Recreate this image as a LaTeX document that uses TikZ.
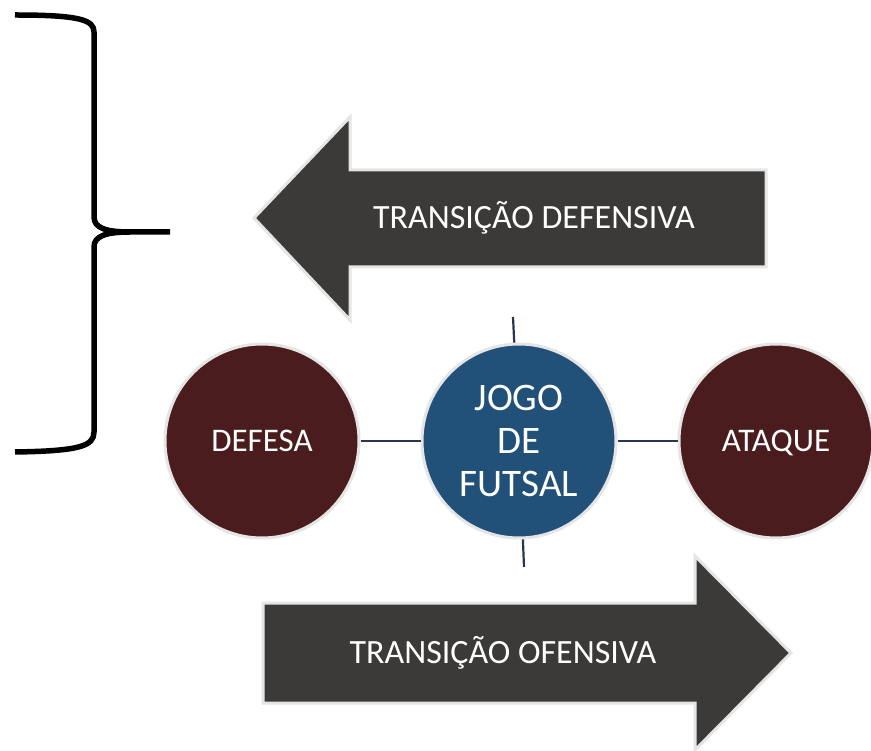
\documentclass[tikz,border=0pt]{standalone}
\usepackage{fontspec}
\setmainfont{Carlito}
\definecolor{arrowgray}{HTML}{3B3A38}
\definecolor{maroon}{HTML}{4B1C1E}
\definecolor{gameblue}{HTML}{215079}
\definecolor{linkblue}{HTML}{26384F}
\begin{document}
\begin{tikzpicture}[x=1pt,y=-1pt,
	ball/.style={circle,fill=maroon,draw=black!10,line width=3pt,minimum size=194pt,inner sep=0pt,text=white,text depth=0pt,font=\fontsize{33}{40}\selectfont},
	bigarrow/.style={fill=arrowgray,draw=black!10,line width=3pt,line join=miter},
	label/.style={text=white,font=\fontsize{34}{40}\selectfont},
	link/.style={draw=linkblue,line width=2.2pt}]
	\useasboundingbox (0,0) rectangle (871,751);
	\draw [line width=5.5pt,line join=round] (15,15) .. controls (80,15) and (94,20) .. (94,32) -- (94,217)
		.. controls (94,228) and (106,232) .. (130,232) -- (170,232);
	\draw [line width=5.5pt] (130,232) .. controls (106,232) and (94,236) .. (94,247) -- (94,432)
		.. controls (94,446) and (80,451) .. (15,452);
	\draw [bigarrow] (254,218) -- (350,117) -- (350,170) -- (766,170) -- (766,267) -- (350,267) -- (350,320) -- cycle;
	\node [label] (tdef) at (534,218) {TRANSIÇÃO DEFENSIVA};
	\draw [bigarrow] (791,653) -- (695,556) -- (695,603) -- (263,603) -- (263,703) -- (695,703) -- (695,750) -- cycle;
	\node [label] (tofe) at (503,653) {TRANSIÇÃO OFENSIVA};
	\node [ball] (defesa) at (262,441) {DEFESA};
	\node [ball,fill=gameblue,align=center,font=\fontsize{39}{43}\selectfont] (jogo) at (519,441) {JOGO\\DE\\FUTSAL};
	\node [ball] (ataque) at (776,441) {ATAQUE};
	\coordinate (jtop) at (513,317);
	\coordinate (jbot) at (524,567);
	\draw [link] (defesa) -- (jogo);
	\draw [link] (jogo) -- (ataque);
	\draw [link] (jtop) -- (jogo);
	\draw [link] (jbot) -- (jogo);
\end{tikzpicture}
\end{document}
